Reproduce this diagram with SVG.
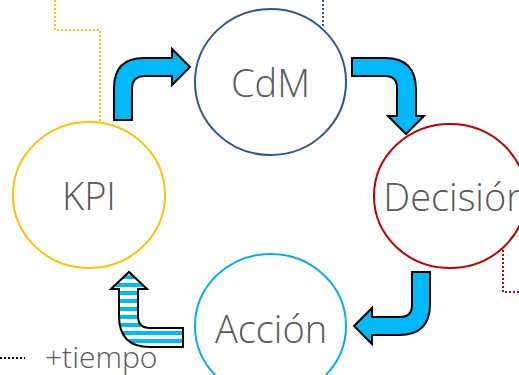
<svg xmlns="http://www.w3.org/2000/svg" width="519" height="375" viewBox="0 0 519 375">
<style>
.lbl{font-family:"Open Sans","Liberation Sans",sans-serif;font-weight:300;font-size:38px;fill:#595959;text-anchor:middle;dominant-baseline:central}
.arrow{fill:#00B9FA;stroke:#000;stroke-width:2;stroke-linejoin:miter}
.dot{fill:none;stroke-width:2;stroke-dasharray:2 2}
</style>
<defs>
<pattern id="stripes" patternUnits="userSpaceOnUse" x="0" y="283" width="8" height="8">
<rect x="0" y="0" width="8" height="8" fill="#fff"/>
<rect x="0" y="0" width="8" height="4" fill="#00B9FA"/>
</pattern>
</defs>
<g id="connectors">
<polyline class="dot" stroke="#FFC000" points="55,0 55,30 100,30 100,123"/>
<polyline class="dot" stroke="#2F5597" points="323,0 323,28"/>
<polyline class="dot" stroke="#C00000" points="503,250 503,292 519,292"/>
<polyline class="dot" stroke="#000" points="0,358 25,358"/>
<path class="arrow" d="M114,120 L114,88 Q114,58 144,58 L172,58 L172,49 L190,67 L172,85 L172,76 L145,76 Q132,76 132,89 L132,120 Z"/>
<path class="arrow" d="M352,58 L385,58 Q416,58 416,90 L416,116 L424,116 L406,134 L388,116 L397,116 L397,88 Q397,76 385,76 L352,76 Z"/>
<path class="arrow" d="M412,272 L430,272 L430,304 Q430,335 399,335 L372,335 L372,344 L354,326 L372,308 L372,317 L400,317 Q412,317 412,305 Z"/>
<path class="arrow" style="fill:url(#stripes)" d="M183,328 L183,347 L150,347 Q119,347 119,316 L119,289 L111,289 L129,272 L147,289 L138,289 L138,316 Q138,328 150,328 Z"/>
</g>
<g id="cdm">
<ellipse cx="270.5" cy="82" rx="75.5" ry="73" fill="none" stroke="#2F5597" stroke-width="2"/>
<text class="lbl" x="270.5" y="82">CdM</text>
</g>
<g id="decision">
<ellipse cx="450" cy="196" rx="76" ry="72" fill="none" stroke="#C00000" stroke-width="2"/>
<text class="lbl" x="456" y="196">Decisión</text>
</g>
<g id="accion">
<ellipse cx="270.5" cy="326" rx="75.5" ry="72" fill="none" stroke="#00B0F0" stroke-width="2"/>
<text class="lbl" x="271" y="328">Acción</text>
</g>
<g id="kpi">
<ellipse cx="89" cy="195" rx="76" ry="73" fill="none" stroke="#FFC000" stroke-width="2"/>
<text class="lbl" x="89" y="195">KPI</text>
</g>
<g id="tiempo">
<text x="45" y="368" style="font-family:'Open Sans','Liberation Sans',sans-serif;font-weight:300;font-size:30px;fill:#595959">+tiempo</text>
</g>
</svg>
